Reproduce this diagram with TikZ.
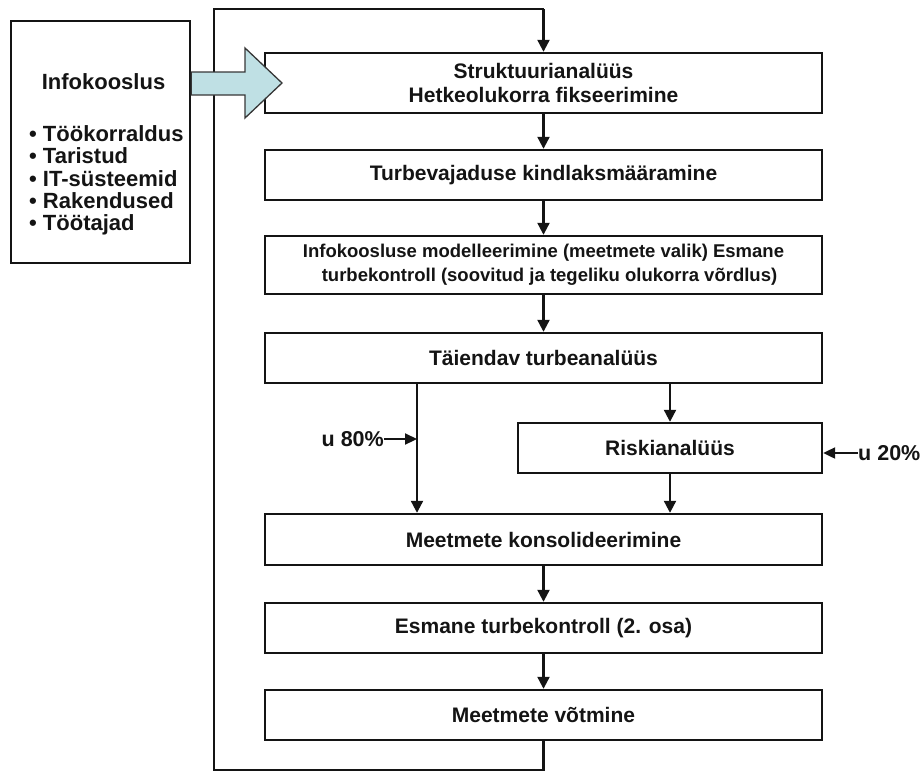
\documentclass[tikz,border=0pt]{standalone}
\usepackage{fontspec}
\setmainfont{Liberation Sans}
\usetikzlibrary{arrows.meta}
\definecolor{flowblue}{HTML}{BFE0E4}
\definecolor{ink}{HTML}{141414}
\tikzset{
  stepbox/.style={draw=ink, line width=2.4pt, minimum height=50pt, align=center,
    inner sep=0pt, font=\bfseries\fontsize{21}{24}\selectfont, text=ink},
  mainbox/.style={stepbox, minimum width=557pt},
  flow/.style={draw=ink, line width=2.2pt, -{Triangle[width=12pt,length=12pt]}},
  loopline/.style={draw=ink, line width=2.4pt, line join=miter},
  pct/.style={font=\bfseries\fontsize{21.5}{24}\selectfont, text=ink, inner sep=0pt},
}
\begin{document}
\begin{tikzpicture}[x=1pt,y=-1pt]
\useasboundingbox (0,0) rectangle (921,772);

% source box on the left
\node[stepbox, minimum width=179pt, minimum height=242pt] (src) at (100.5,142) {};
\node[pct, font=\bfseries\fontsize{22}{24}\selectfont] (srctitle) at (103.5,82) {Infokooslus};
\node[pct, anchor=west, align=left, font=\bfseries\fontsize{22}{22.3}\selectfont]
  (srclist) at (29,180.5) {• Töökorraldus\\• Taristud\\• IT-süsteemid\\• Rakendused\\• Töötajad};

% process steps
\node[mainbox, minimum height=60pt] (s1) at (543.5,83) {Struktuurianalüüs\\Hetkeolukorra fikseerimine};
\node[mainbox] (s2) at (543.5,175) {Turbevajaduse kindlaksmääramine};
\node[mainbox, minimum height=58pt, font=\bfseries\fontsize{18.5}{24}\selectfont] (s3) at (543.5,265)
  {Infokoosluse modelleerimine (meetmete valik) Esmane\\\hspace*{12pt}turbekontroll (soovitud ja tegeliku olukorra võrdlus)};
\node[mainbox] (s4) at (543.5,358) {Täiendav turbeanalüüs};
\node[stepbox, minimum width=304pt] (risk) at (670,448) {Riskianalüüs};
\node[mainbox, minimum height=51pt] (s5) at (543.5,539.5) {Meetmete konsolideerimine};
\node[mainbox] (s6) at (543.5,628) {Esmane turbekontroll (2. osa)};
\node[mainbox] (s7) at (543.5,715) {Meetmete võtmine};

% feedback loop around the steps
\coordinate (lpA) at (543.5,770);
\coordinate (lpB) at (214,770);
\coordinate (lpC) at (214,9);
\coordinate (lpD) at (543.5,9);
\draw[loopline] (s7.south) -- (lpA) -- (lpB) -- (lpC) -- (lpD);
\draw[flow] (lpD) -- (s1.north);

% input arrow from the source box
\filldraw[fill=flowblue, draw=ink!85, line width=1.3pt]
  (src.east |- 0,72) -- (245,72) -- (245,48) -- (282,83) -- (245,118) -- (245,95) -- (src.east |- 0,95) -- cycle;

% connectors between the steps
\draw[flow] (s1) -- (s2);
\draw[flow] (s2) -- (s3);
\draw[flow] (s3) -- (s4);
\draw[flow] (s4.south -| 417,0) -- (s5.north -| 417,0);
\draw[flow] (s4.south -| risk.north) -- (risk.north);
\draw[flow] (risk.south) -- (s5.north -| risk.south);
\draw[flow] (s5) -- (s6);
\draw[flow] (s6) -- (s7);

% share labels
\node[pct, anchor=east] (p80) at (384,439) {u 80\%};
\coordinate (p80end) at (417,439);
\draw[flow, -{Triangle[width=11pt,length=12pt]}] (p80.east) -- (p80end);
\node[pct, anchor=west] (p20) at (858,453) {u 20\%};
\draw[flow, -{Triangle[width=11pt,length=12pt]}] (p20.west) -- (risk.east |- p20.west);
\end{tikzpicture}
\end{document}
